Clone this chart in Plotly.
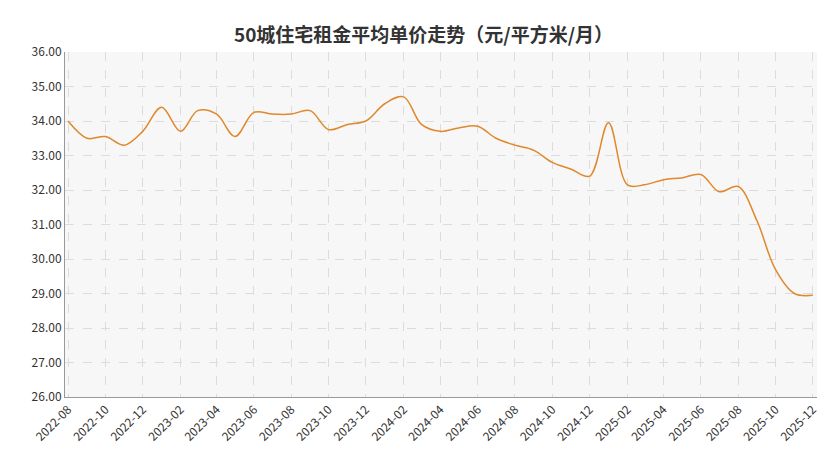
import plotly.graph_objects as go
import pandas as pd

months = pd.date_range("2022-08-01", "2025-12-01", freq="MS")
prices = [34.0, 33.5, 33.55, 33.3, 33.7, 34.4, 33.7, 34.3, 34.2, 33.55,
          34.25, 34.2, 34.2, 34.3, 33.75, 33.9, 34.0, 34.5, 34.7, 33.9,
          33.7, 33.8, 33.85, 33.5, 33.3, 33.15, 32.8, 32.6, 32.4, 33.95,
          32.15, 32.15, 32.3, 32.35, 32.45, 31.95, 32.1, 31.1, 29.7, 29.0,
          28.95]

fig = go.Figure()
fig.add_trace(go.Scatter(x=months, y=prices, mode="lines",
                         line=dict(color="#E0882C", width=1.5, shape="spline", smoothing=1)))

fig.update_layout(
    width=831, height=461,
    margin=dict(l=57, r=22, t=44, b=72),
    title=dict(text="<b>50城住宅租金平均单价走势（元/平方米/月）</b>", x=0.5, y=0.955,
               xanchor="center", font=dict(size=19, color="#333")),
    font=dict(family="Noto Sans CJK SC", size=12, color="#333"),
    plot_bgcolor="#f7f7f7", paper_bgcolor="white",
    showlegend=False,
)
fig.update_xaxes(range=["2022-07-27", "2025-12-08"], dtick="M2", tick0="2022-08-01",
                 tickformat="%Y-%m", tickangle=-45, showgrid=True,
                 gridcolor="#dcdcdc", griddash="dash", linecolor="#999", ticks="")
fig.update_yaxes(range=[26, 36], dtick=1, tickformat=".2f", showgrid=True,
                 gridcolor="#dcdcdc", griddash="dash", linecolor="#999", showline=True)

fig.write_html("out.html")
